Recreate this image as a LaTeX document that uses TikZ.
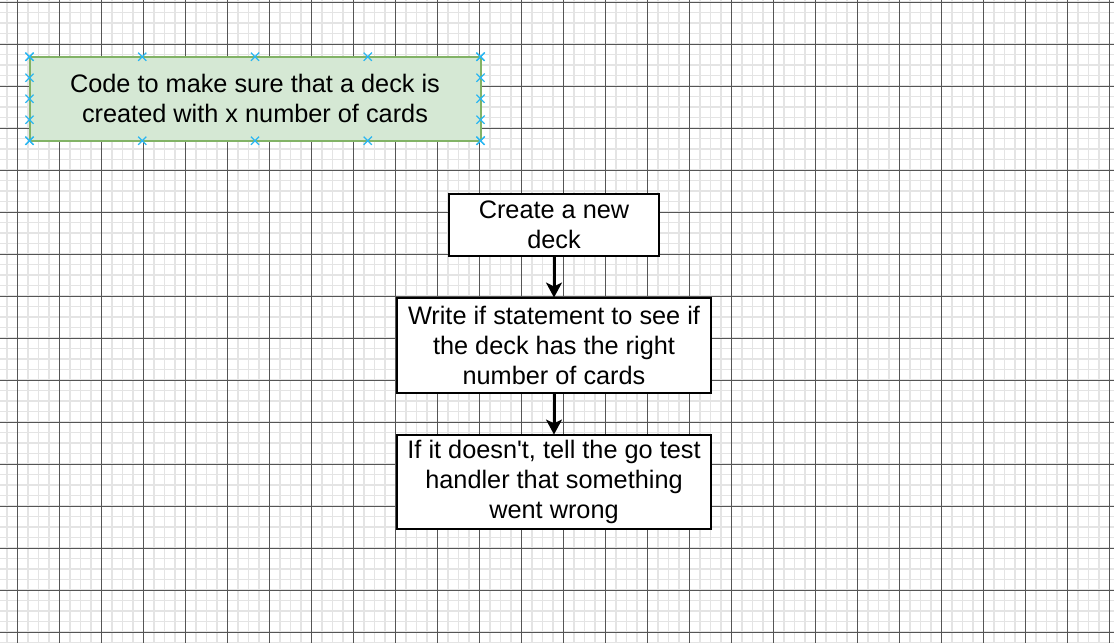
\documentclass[tikz,border=0pt]{standalone}
\usepackage{fontspec}
\setmainfont{Liberation Sans}[Ligatures=TeXOff]
\usetikzlibrary{positioning,calc,arrows.meta,shapes.misc}
\definecolor{notefill}{HTML}{D5E8D4}
\definecolor{noteline}{HTML}{82B366}
\definecolor{handleblue}{HTML}{29B6F2}
\definecolor{gridminor}{HTML}{E4E4E4}
\definecolor{gridmajor}{HTML}{555555}

\begin{document}
\begin{tikzpicture}[x=1pt,y=-1pt,base/.style={draw,line width=2pt,fill=white,align=center,inner sep=0pt,outer sep=0pt,node distance=42pt,font=\fontsize{25.3}{30}\selectfont},note/.style={base,draw=noteline,fill=notefill,line width=2pt},handle/.style={cross out,draw=handleblue,line width=1.2pt,minimum size=7pt,inner sep=0pt},flow/.style={line width=3pt,-{Stealth[length=15pt,width=16pt,inset=4pt]}},minor/.style={gridminor,line width=1.5pt},major/.style={gridmajor,line width=1pt}]
        \useasboundingbox (0,0) rectangle (1114,643);
        \fill[white] (0,0) rectangle (1114,643);
        %
        \foreach \i in {0,...,105} \draw[minor] ({6.8+10.5*\i},0) -- ++(0,643);
        \foreach \i in {0,...,61} \draw[minor] (0,{2+10.5*\i}) -- ++(1114,0);
        \foreach \i in {0,...,26} \draw[major] ({17.3+42*\i},0) -- ++(0,643);
        \foreach \i in {0,...,15} \draw[major] (0,{2+42*\i}) -- ++(1114,0);
        %
        \node[note,minimum width=451pt,minimum height=84pt](note) at (255,98.7){Code to make sure that a deck is\\created with x number of cards};
        \foreach \t [count=\k] in {0,0.25,0.5,0.75,1} {
            \node[handle](ht\k) at ($(note.north west)!\t!(note.north east)$){};
            \node[handle](hb\k) at ($(note.south west)!\t!(note.south east)$){};
            \node[handle](hl\k) at ($(note.north west)!\t!(note.south west)$){};
            \node[handle](hr\k) at ($(note.north east)!\t!(note.south east)$){};
        }
        %
        \node[base,minimum width=210pt,minimum height=62pt](create) at (554,224.5){Create a new\\deck};
        \node[base,minimum width=314pt,minimum height=95pt,below=of create](check){Write if statement to see if\\the deck has the right\\number of cards};
        \node[base,minimum width=314pt,minimum height=94pt,below=of check](report){If it doesn't, tell the go test\\handler that something\\went wrong};
        %
        \draw[flow] (create) -- (check);
        \draw[flow] (check) -- (report);
    \end{tikzpicture}
\end{document}
